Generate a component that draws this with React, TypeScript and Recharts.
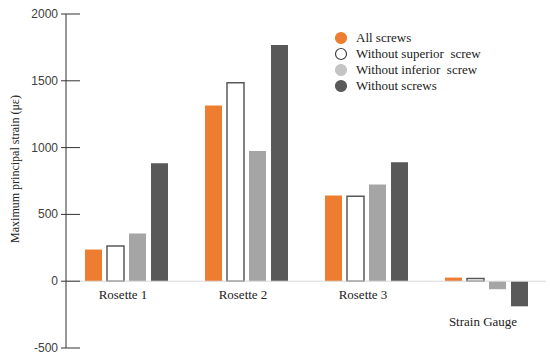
import React from "react";
import { BarChart, Bar, XAxis, YAxis, ReferenceLine } from "recharts";

const categories = ["Rosette  1", "Rosette  2", "Rosette  3", "Strain Gauge"];
const allScrews = [237, 1315, 642, 27];
const withoutSuperior = [263, 1485, 635, 20];
const withoutInferior = [357, 975, 724, -60];
const withoutScrews = [883, 1768, 890, -188];
const yTicks = [-500, 0, 500, 1000, 1500, 2000];
const seriesNames = ["All screws", "Without superior  screw", "Without inferior  screw", "Without screws"];
const yTitle = "Maximum principal strain (με)";

const data = categories.map((c, i) => ({
  name: c,
  a: allScrews[i],
  b: withoutSuperior[i],
  c: withoutInferior[i],
  d: withoutScrews[i],
}));

const W = 550;
const H = 356;
const TOP = 14;
const BOTTOM = 7;
const XH = 1;
const plotBottom = H - BOTTOM - XH;
const zeroY = TOP + (2000 / 2500) * (plotBottom - TOP);

const serif = "'Liberation Serif', 'Times New Roman', serif";
const sans = "'Liberation Sans', Arial, sans-serif";

const YTick = (props: any) => {
  const { x, y, payload } = props;
  return (
    <g>
      <line x1={x - 5} x2={x + 14} y1={y} y2={y} stroke="#333" strokeWidth={1} />
      <text x={x - 8} y={y} dy={4} textAnchor="end" fontFamily={sans} fontSize={12} fill="#404040">
        {payload.value}
      </text>
    </g>
  );
};

const XTick = (props: any) => {
  const { x, y, payload } = props;
  const lower = payload.value === "Strain Gauge";
  const ty = y - (plotBottom - zeroY) + (lower ? 37 : 10);
  return (
    <text x={x - 3} y={ty} textAnchor="middle" fontFamily={serif} fontSize={13} fill="#222">
      {payload.value}
    </text>
  );
};

const YLabel = (props: any) => {
  const vb = props.viewBox || { x: 0, y: TOP, height: plotBottom - TOP };
  const cx = 15;
  const cy = vb.y + vb.height / 2 - 12;
  return (
    <text
      x={cx}
      y={cy}
      transform={`rotate(-90, ${cx}, ${cy})`}
      textAnchor="middle"
      dominantBaseline="central"
      fontFamily={serif}
      fontSize={12}
      fill="#222"
    >
      {yTitle}
    </text>
  );
};

const legendItems = [
  { fill: "#ED7D31", stroke: "#ED7D31" },
  { fill: "#ffffff", stroke: "#404040" },
  { fill: "#C4C4C4", stroke: "#C4C4C4" },
  { fill: "#595959", stroke: "#595959" },
];

const LegendBox = () => (
  <div style={{ position: "absolute", left: 334, top: 30 }}>
    {seriesNames.map((n, i) => (
      <div key={n} style={{ display: "flex", alignItems: "center", height: 16 }}>
        <svg width={14} height={14} style={{ marginRight: 8 }}>
          <circle cx={7} cy={7} r={5.5} fill={legendItems[i].fill} stroke={legendItems[i].stroke} strokeWidth={1.2} />
        </svg>
        <span style={{ fontFamily: serif, fontSize: 13, color: "#222", whiteSpace: "pre" }}>{n}</span>
      </div>
    ))}
  </div>
);

export default function App() {
  return (
    <div style={{ position: "absolute", left: 0, top: 0, width: W, height: H, background: "#fff" }}>
      <BarChart
        width={W}
        height={H}
        data={data}
        margin={{ top: TOP, right: 4, bottom: BOTTOM, left: 0 }}
        barSize={17}
        barGap={5}
      >
        <ReferenceLine y={0} stroke="#d9d9d9" strokeWidth={1} />
        <XAxis
          dataKey="name"
          height={XH}
          axisLine={false}
          tickLine={false}
          tick={<XTick />}
          interval={0}
        />
        <YAxis
          width={66}
          domain={[-500, 2000]}
          ticks={yTicks}
          interval={0}
          allowDataOverflow
          axisLine={{ stroke: "#333", strokeWidth: 1 }}
          tickLine={false}
          tickSize={0}
          tickMargin={0}
          tick={<YTick />}
          label={<YLabel />}
        />
        <Bar dataKey="a" name={seriesNames[0]} fill="#ED7D31" isAnimationActive={false} />
        <Bar dataKey="b" name={seriesNames[1]} fill="#ffffff" stroke="#595959" strokeWidth={1.5} isAnimationActive={false} />
        <Bar dataKey="c" name={seriesNames[2]} fill="#A5A5A5" isAnimationActive={false} />
        <Bar dataKey="d" name={seriesNames[3]} fill="#595959" isAnimationActive={false} />
      </BarChart>
      <LegendBox />
    </div>
  );
}
